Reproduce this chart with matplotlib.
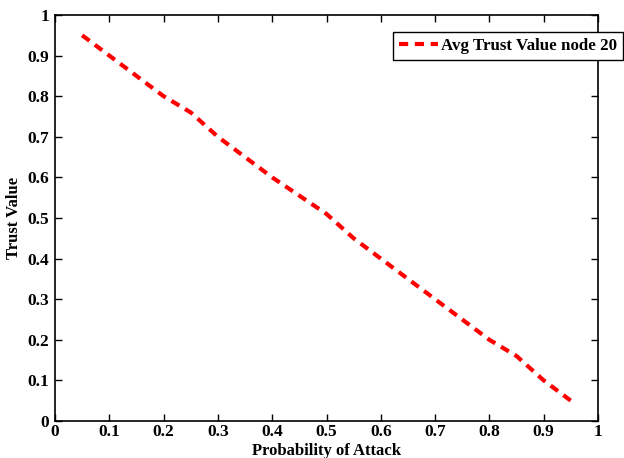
import matplotlib
matplotlib.use('Agg')
import matplotlib.pyplot as plt
import numpy as np

prob_attacco = [0.05, 0.10, 0.15, 0.20, 0.25, 0.30, 0.35, 0.40, 0.45, 0.50,
                0.55, 0.60, 0.65, 0.70, 0.75, 0.80, 0.85, 0.90, 0.95]
trust_nodo20 = [0.95, 0.90, 0.85, 0.80, 0.76, 0.70, 0.65, 0.60, 0.555, 0.51,
                0.45, 0.40, 0.35, 0.30, 0.25, 0.20, 0.16, 0.10, 0.05]

tick_vals = np.round(np.arange(0, 1.01, 0.1), 1)
tick_labels = ['0', '0.1', '0.2', '0.3', '0.4', '0.5', '0.6', '0.7', '0.8', '0.9', '1']

plt.rcParams['font.family'] = ['Liberation Serif', 'DejaVu Serif']
plt.rcParams['font.weight'] = 'bold'

fig = plt.figure(figsize=(6.24, 4.58), dpi=100)
# assi: sinistra 55px, destra 598px, alto 15px, basso 421px
ax = fig.add_axes([55 / 624, 37 / 458, 543 / 624, 406 / 458])

ax.plot(prob_attacco, trust_nodo20, color='red', lw=3, ls=(0, (2.2, 1.6)),
        label='Avg Trust Value node 20')

ax.set_xlim(0, 1)
ax.set_ylim(0, 1)
ax.set_xticks(tick_vals)
ax.set_xticklabels(tick_labels)
ax.set_yticks(tick_vals)
ax.set_yticklabels(tick_labels)
ax.tick_params(direction='in', top=True, right=True, length=5, width=1,
               labelsize=12.5)
ax.tick_params(axis='x', pad=2)
ax.tick_params(axis='y', pad=4)
for s in ax.spines.values():
    s.set_linewidth(1.2)

ax.set_xlabel('Probability of Attack', fontsize=12, fontweight='bold')
ax.xaxis.set_label_coords(0.5, -0.054)
ax.set_ylabel('Trust Value', fontsize=12, fontweight='bold', labelpad=4)

leg = ax.legend(loc='upper left', bbox_to_anchor=(393 / 624, 1 - 32 / 458),
                bbox_transform=fig.transFigure, fontsize=12.2, fancybox=False,
                framealpha=1, edgecolor='black', handlelength=2.3,
                handletextpad=0.2, borderpad=0.35, borderaxespad=0)
leg.get_frame().set_linewidth(1.0)
for t in leg.get_texts():
    t.set_fontweight('bold')

fig.savefig('out.png', dpi=100)
